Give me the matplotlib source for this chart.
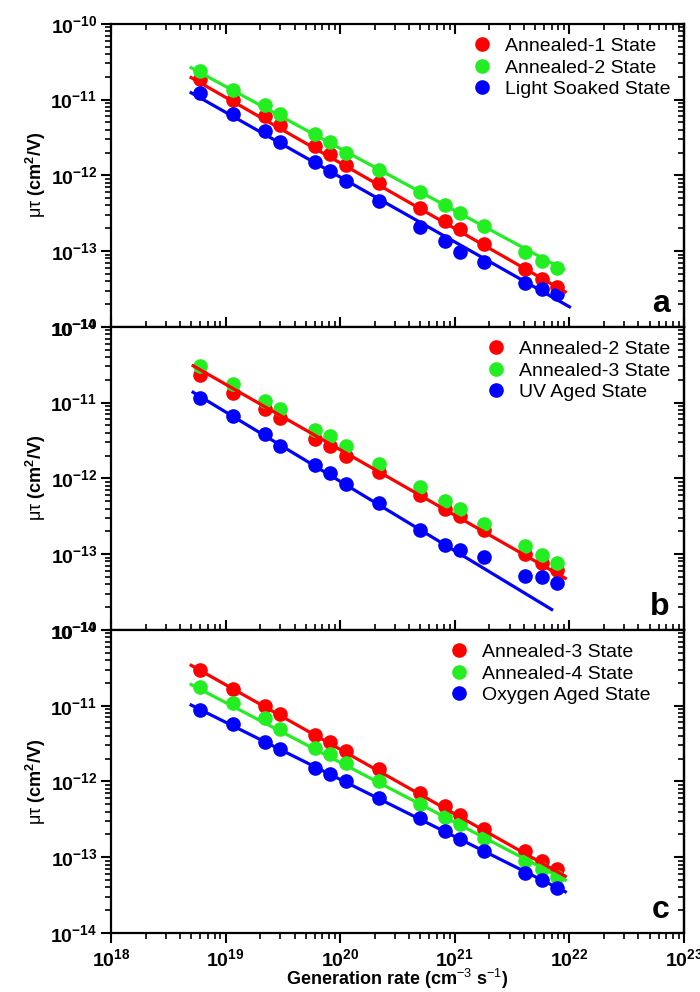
import numpy as np
import matplotlib
matplotlib.use("Agg")
import matplotlib.pyplot as plt
from matplotlib.ticker import LogLocator, FuncFormatter, NullFormatter

plt.rcParams['font.family'] = ['Liberation Sans', 'DejaVu Sans']
plt.rcParams['mathtext.fontset'] = 'custom'
plt.rcParams['mathtext.rm'] = 'Liberation Sans'
plt.rcParams['mathtext.bf'] = 'Liberation Sans:bold'
plt.rcParams['mathtext.it'] = 'Liberation Sans:italic'

# generation rate (cm^-3 s^-1), same for every series
gen = [6e18, 1.15e19, 2.2e19, 3.0e19, 6.0e19, 8.1e19, 1.13e20, 2.2e20,
       5.0e20, 8.2e20, 1.1e21, 1.8e21, 4.1e21, 5.8e21, 7.8e21]

# panel a
a_ann1 = [1.89e-11, 1.0e-11, 6.0e-12, 4.57e-12, 2.47e-12, 1.9e-12, 1.38e-12, 7.9e-13,
          3.7e-13, 2.5e-13, 1.94e-13, 1.25e-13, 5.8e-14, 4.3e-14, 3.4e-14]
a_ann2 = [2.39e-11, 1.32e-11, 8.6e-12, 6.4e-12, 3.47e-12, 2.76e-12, 1.98e-12, 1.19e-12,
          6.0e-13, 4.1e-13, 3.2e-13, 2.15e-13, 9.8e-14, 7.5e-14, 5.9e-14]
a_ls = [1.21e-11, 6.5e-12, 3.83e-12, 2.73e-12, 1.48e-12, 1.13e-12, 8.3e-13, 4.6e-13,
        2.1e-13, 1.34e-13, 9.6e-14, 7.1e-14, 3.8e-14, 3.2e-14, 2.75e-14]

# panel b
b_ann2 = [2.31e-11, 1.33e-11, 8.3e-12, 6.2e-12, 3.3e-12, 2.7e-12, 2.0e-12, 1.2e-12,
          6.0e-13, 4.0e-13, 3.2e-13, 2.1e-13, 1.0e-13, 7.6e-14, 6.2e-14]
b_ann3 = [3.07e-11, 1.76e-11, 1.04e-11, 8.3e-12, 4.4e-12, 3.6e-12, 2.7e-12, 1.56e-12,
          7.7e-13, 5.1e-13, 4.0e-13, 2.5e-13, 1.28e-13, 9.7e-14, 7.6e-14]
b_uv = [1.14e-11, 6.7e-12, 3.9e-12, 2.66e-12, 1.48e-12, 1.17e-12, 8.5e-13, 4.7e-13,
        2.1e-13, 1.31e-13, 1.15e-13, 9.2e-14, 5.2e-14, 5.0e-14, 4.1e-14]

# panel c
c_ann3 = [2.93e-11, 1.68e-11, 9.8e-12, 7.65e-12, 4.1e-12, 3.34e-12, 2.54e-12, 1.45e-12,
          7.1e-13, 4.8e-13, 3.65e-13, 2.35e-13, 1.2e-13, 8.8e-14, 6.9e-14]
c_ann4 = [1.77e-11, 1.07e-11, 6.8e-12, 4.9e-12, 2.79e-12, 2.3e-12, 1.73e-12, 1.0e-12,
          5.0e-13, 3.44e-13, 2.74e-13, 1.82e-13, 8.8e-14, 6.9e-14, 5.5e-14]
c_oxy = [8.9e-12, 5.8e-12, 3.34e-12, 2.65e-12, 1.51e-12, 1.26e-12, 1.0e-12, 6.0e-13,
         3.3e-13, 2.24e-13, 1.74e-13, 1.22e-13, 6.2e-14, 4.95e-14, 3.9e-14]

# power-law fit lines, (x0, x1), (y0, y1)
a_fit = {'red': ([5e18, 9.2e21], [1.95e-11, 2.9e-14]),
         'green': ([5e18, 8.9e21], [2.63e-11, 5.7e-14]),
         'blue': ([5e18, 1.0e22], [1.23e-11, 1.84e-14])}
b_fit = {'red': ([5.2e18, 9.2e21], [3.07e-11, 4.8e-14]),
         'blue': ([5.2e18, 7e21], [1.37e-11, 1.86e-14])}
c_fit = {'red': ([5e18, 9.2e21], [3.41e-11, 5.6e-14]),
         'green': ([5e18, 9.2e21], [1.9e-11, 5.0e-14]),
         'blue': ([5e18, 9.2e21], [1.02e-11, 3.5e-14])}

colors = {'red': '#ff0000', 'green': '#22ee22', 'blue': '#0000ff'}

panels = [
    ('a', [(a_ann1, 'red', 'Annealed-1 State'), (a_ann2, 'green', 'Annealed-2 State'),
           (a_ls, 'blue', 'Light Soaked State')], a_fit),
    ('b', [(b_ann2, 'red', 'Annealed-2 State'), (b_ann3, 'green', 'Annealed-3 State'),
           (b_uv, 'blue', 'UV Aged State')], b_fit),
    ('c', [(c_ann3, 'red', 'Annealed-3 State'), (c_ann4, 'green', 'Annealed-4 State'),
           (c_oxy, 'blue', 'Oxygen Aged State')], c_fit),
]

fig = plt.figure(figsize=(7, 9.92), dpi=100)
left, width = 0.1586, 0.8186
h = 0.3055
b0 = 0.0595
bottoms = [b0 + 2 * h, b0 + h, b0]


def fmt(v, pos):
    e = int(round(np.log10(v)))
    return r'$\mathbf{10^{%d}}$' % e


def log_ticks(axis):
    axis.set_major_locator(LogLocator(base=10, numticks=10))
    axis.set_minor_locator(LogLocator(base=10, subs=np.arange(2, 10), numticks=10))
    axis.set_minor_formatter(NullFormatter())


for i, (tag, series, fits) in enumerate(panels):
    ax = fig.add_axes([left, bottoms[i], width, h])
    ax.set_xscale('log')
    ax.set_yscale('log')
    ax.set_xlim(1e18, 1e23)
    ax.set_ylim(1e-14, 1e-10)

    # points first, fit lines on top
    for vals, c, lab in series:
        ax.plot(gen, vals, 'o', color=colors[c], ms=9.5, mec=colors[c], label=lab, zorder=2)
    for c, (fx, fy) in fits.items():
        ax.plot(fx, fy, '-', color=colors[c], lw=2.3, zorder=3)

    ax.legend(loc='upper right', frameon=False, fontsize=14, handletextpad=0.6,
              labelspacing=0.2, borderaxespad=0.3, handlelength=1.2,
              bbox_to_anchor=(1.0 if tag != 'c' else 0.965, 1.0))

    ax.text(0.975, 0.05, tag, transform=ax.transAxes, ha='right', va='baseline',
            fontsize=23, fontweight='bold')

    for s in ax.spines.values():
        s.set_linewidth(1.6)

    log_ticks(ax.yaxis)
    log_ticks(ax.xaxis)
    ax.yaxis.set_major_formatter(FuncFormatter(fmt))
    ax.xaxis.set_major_formatter(FuncFormatter(fmt))

    ax.tick_params(axis='y', which='both', left=True, right=False, direction='out',
                   labelsize=14, pad=3)
    ax.tick_params(axis='y', which='major', length=7, width=1.5)
    ax.tick_params(axis='y', which='minor', length=4, width=1.2)

    # right side: ticks point inward
    sec = ax.secondary_yaxis('right')
    log_ticks(sec.yaxis)
    sec.yaxis.set_major_formatter(NullFormatter())
    sec.tick_params(which='both', direction='in')
    sec.tick_params(which='major', length=7, width=1.5)
    sec.tick_params(which='minor', length=4, width=1.2)
    sec.spines['right'].set_linewidth(1.6)

    if tag == 'c':
        ax.tick_params(axis='x', which='both', bottom=True, top=False, direction='out',
                       labelbottom=True, labelsize=14, pad=4)
        ax.set_xlabel('Generation rate (cm$^{-3}$ s$^{-1}$)', fontsize=13,
                      fontweight='bold', labelpad=-2)
    elif tag == 'a':
        ax.tick_params(axis='x', which='both', bottom=True, top=True, direction='in',
                       labelbottom=False)
    else:
        ax.tick_params(axis='x', which='both', bottom=True, top=False, direction='in',
                       labelbottom=False)
    ax.tick_params(axis='x', which='major', length=7, width=1.5)
    ax.tick_params(axis='x', which='minor', length=4, width=1.2)

    ax.set_ylabel(r'$\mathrm{\mu\tau}$ (cm$^{\mathbf{2}}$/V)', fontsize=13, fontweight='bold')
    ax.yaxis.set_label_coords(-0.11, 0.5)

fig.savefig('out.png', dpi=100)
